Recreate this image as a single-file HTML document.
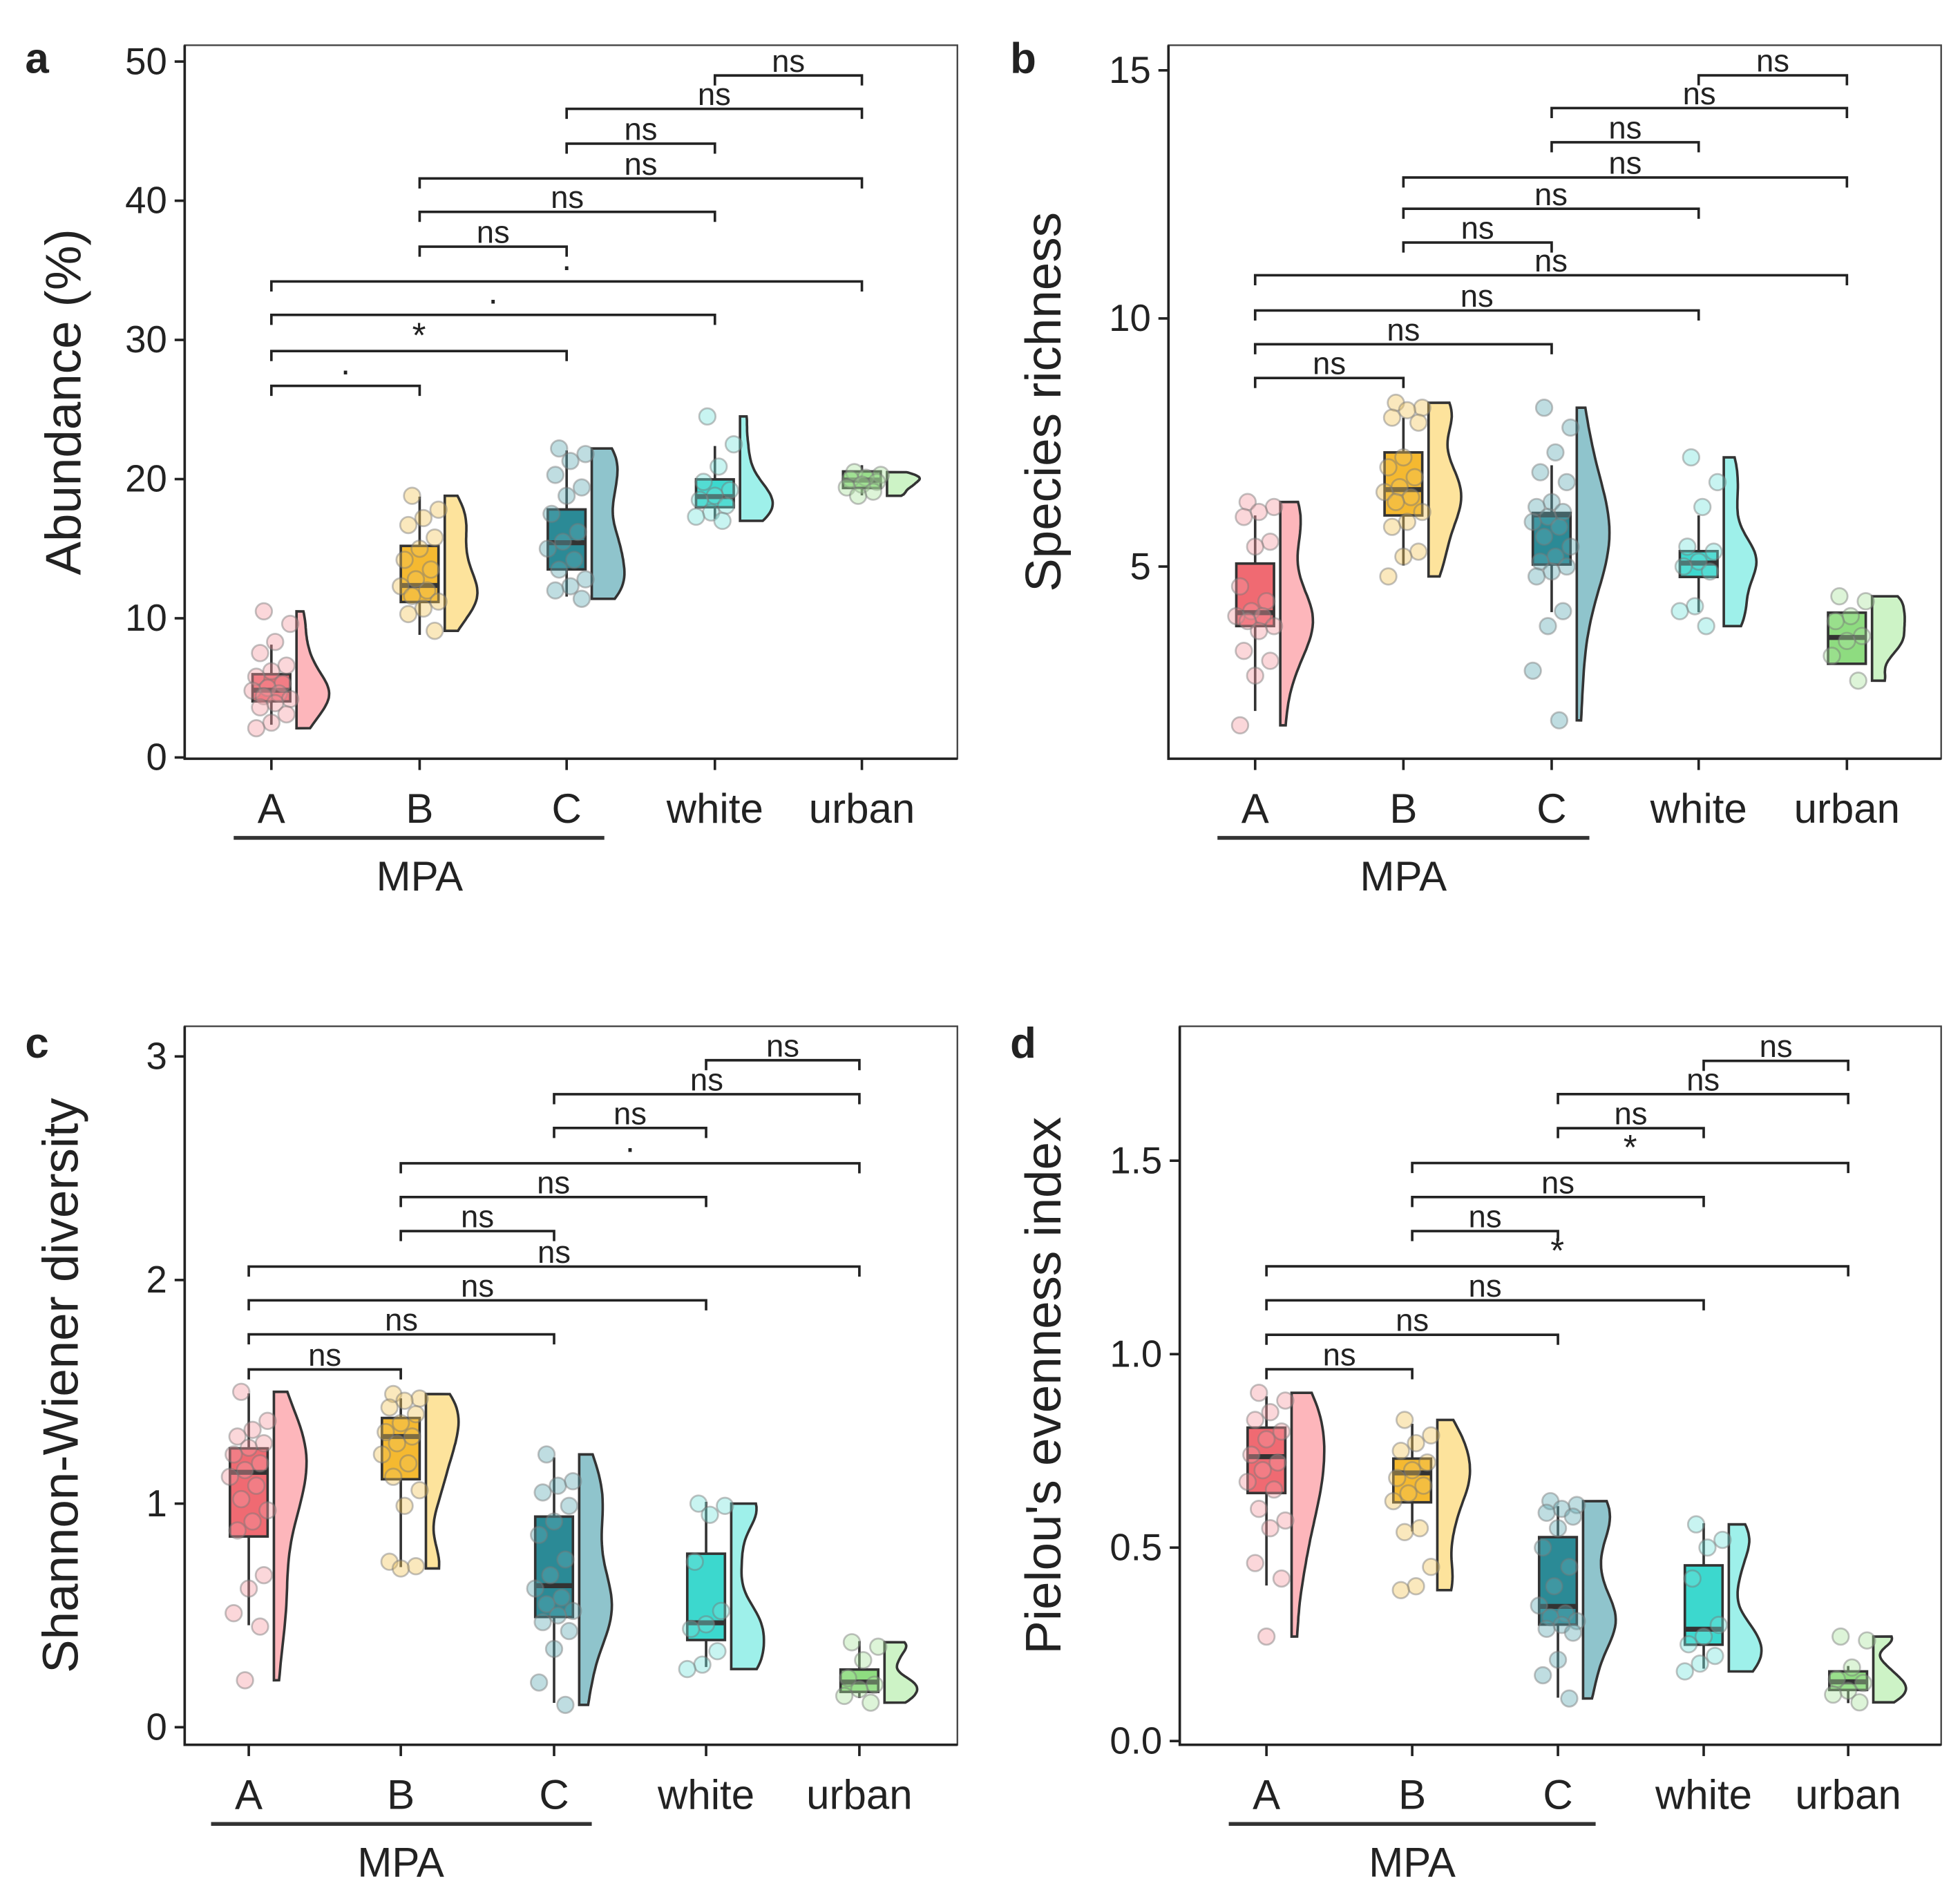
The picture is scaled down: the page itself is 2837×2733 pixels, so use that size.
<!DOCTYPE html>
<html><head><meta charset="utf-8"><style>
html,body{margin:0;padding:0;background:#fff}
svg{display:block}
text{font-family:"Liberation Sans",sans-serif;fill:#222}
</style></head><body>
<svg id="chart" xmlns="http://www.w3.org/2000/svg" width="2837" height="2733" viewBox="0 0 1560 1503" preserveAspectRatio="none"></svg>
<script>
const cats=['A','B','C','white','urban'];
const pairs=[[0,1],[0,2],[0,3],[0,4],[1,2],[1,3],[1,4],[2,3],[2,4],[3,4]];
// Panel a: Abundance
const aPts=[[10.5,9.6,8.3,7.5,6.6,6.2,5.8,5.3,5.0,4.8,4.6,4.4,4.2,3.9,3.6,3.1,2.5,2.1],
[18.8,17.8,17.2,16.7,15.8,15.0,14.2,13.5,12.8,12.3,12.0,11.6,11.2,10.7,10.3,9.1],
[22.2,21.8,21.3,20.3,19.4,18.8,17.5,16.2,15.5,15.0,14.2,13.5,12.8,12.3,12.0,11.4],
[24.5,22.5,20.9,19.8,19.2,18.8,18.5,18.1,17.6,17.3,17.0],
[20.5,20.3,20.1,20.0,19.8,19.6,19.4,19.1,18.8]];
const aQ1=[4.03,11.17,13.51,17.98,19.36];
const aMed=[4.83,12.36,15.43,18.74,19.93];
const aQ3=[5.98,15.2,17.82,19.98,20.55];
const aLo=[2.35,8.81,11.56,17.15,18.83];
const aHi=[8.11,18.74,22.06,22.38,21.0];
const aBrY=[26.7,29.2,31.8,34.2,36.7,39.2,41.6,44.1,46.6,49.0];
const aBrLab=['·','*','·','·','ns','ns','ns','ns','ns','ns'];
const aTicks=[0,10,20,30,40,50];
// Panel b: Species richness
const bPts=[[6.3,6.2,6.1,6.0,5.5,5.4,4.6,4.3,4.1,4.0,4.0,3.9,3.8,3.7,3.3,3.1,2.8,1.8],
[8.3,8.2,8.15,8.0,7.9,7.2,7.0,6.8,6.6,6.5,6.4,6.3,6.1,5.9,5.8,5.3,5.2,4.8],
[8.2,7.8,7.3,6.9,6.7,6.3,6.2,6.1,6.0,5.9,5.8,5.6,5.4,5.2,5.1,5.0,4.9,4.8,4.1,3.8,2.9,1.9],
[7.2,6.7,6.2,5.4,5.3,5.1,5.0,4.9,4.2,4.1,3.8],
[4.4,4.3,4.0,3.9,3.6,3.5,3.2,2.7]];
const bQ1=[3.8,6.03,5.04,4.79,3.04];
const bMed=[4.07,6.55,6.04,5.07,3.57];
const bQ3=[5.06,7.3,6.08,5.31,4.07];
const bLo=[2.09,5.02,4.08,4.08,3.04];
const bHi=[6.03,8.0,7.04,6.03,4.07];
const bBrY=[8.8,9.48,10.16,10.87,11.53,12.21,12.84,13.55,14.24,14.9];
const bBrLab=['ns','ns','ns','ns','ns','ns','ns','ns','ns','ns'];
const bTicks=[5,10,15];
// Panel c: Shannon-Wiener
const cPts=[[1.50,1.37,1.33,1.30,1.27,1.25,1.22,1.18,1.15,1.12,1.08,1.02,0.97,0.92,0.88,0.68,0.62,0.51,0.45,0.21],
[1.49,1.47,1.46,1.43,1.40,1.36,1.32,1.30,1.27,1.22,1.18,1.12,1.06,0.99,0.74,0.72,0.71],
[1.22,1.10,1.08,1.05,0.99,0.92,0.86,0.75,0.68,0.62,0.58,0.55,0.52,0.50,0.47,0.43,0.35,0.20,0.10],
[1.0,0.99,0.95,0.74,0.52,0.46,0.44,0.34,0.28,0.26],
[0.38,0.36,0.30,0.22,0.19,0.17,0.14,0.11]];
const cQ1=[0.853,1.109,0.493,0.39,0.158];
const cMed=[1.14,1.3,0.633,0.467,0.202];
const cQ3=[1.247,1.383,0.942,0.776,0.258];
const cLo=[0.456,0.716,0.109,0.269,0.131];
const cHi=[1.493,1.471,1.207,1.008,0.385];
const cBrY=[1.60,1.757,1.909,2.06,2.219,2.371,2.522,2.68,2.831,2.983];
const cBrLab=['ns','ns','ns','ns','ns','ns','·','ns','ns','ns'];
const cTicks=[0,1,2,3];
// Panel d: Pielou
const dPts=[[0.90,0.88,0.85,0.83,0.80,0.78,0.74,0.72,0.70,0.67,0.65,0.60,0.57,0.55,0.46,0.42,0.27],
[0.83,0.79,0.77,0.75,0.72,0.70,0.68,0.66,0.64,0.62,0.55,0.54,0.45,0.40,0.39],
[0.62,0.61,0.60,0.59,0.58,0.55,0.50,0.45,0.40,0.35,0.33,0.32,0.31,0.30,0.29,0.28,0.21,0.17,0.11],
[0.56,0.52,0.50,0.42,0.30,0.27,0.25,0.22,0.20,0.18],
[0.27,0.26,0.19,0.16,0.15,0.13,0.12,0.10]];
const dQ1=[0.641,0.617,0.301,0.249,0.132];
const dMed=[0.735,0.693,0.348,0.289,0.153];
const dQ3=[0.81,0.73,0.527,0.454,0.18];
const dLo=[0.402,0.542,0.112,0.187,0.098];
const dHi=[0.891,0.82,0.607,0.563,0.194];
const dBrY=[0.961,1.05,1.139,1.227,1.318,1.406,1.494,1.584,1.672,1.758];
const dBrLab=['ns','ns','ns','*','ns','ns','*','ns','ns','ns'];
const dTicks=['0.0','0.5','1.0','1.5'];

const boxFill=['#f06a72','#f5b930','#2b8a96','#3cd8ce','#8edc80'];
const violFill=['#fdb6bb','#fde39c','#8fc4cc','#9ef0ea','#cdf3c6'];
const ptFill=['#f59aa2','#f3c55a','#5fa9b3','#76e3dc','#a9e49d'];

const NS='http://www.w3.org/2000/svg';
const svg=document.getElementById('chart');
function mk(tag,attrs,parent){const e=document.createElementNS(NS,tag);for(const k in attrs)e.setAttribute(k,attrs[k]);(parent||svg).appendChild(e);return e;}

const panels=[
 {id:'a',pts:aPts,q1:aQ1,med:aMed,q3:aQ3,lo:aLo,hi:aHi,brY:aBrY,brLab:aBrLab,ticks:aTicks,
  x0:147,x1:762,y0:36,y1:604,xs:[216,334,451,569,686],yv0:0,yp0:603,ppu:11.08,title:'Abundance (%)',tx:50,letterX:20,letterY:58,catY:655,mpaY:667},
 {id:'b',pts:bPts,q1:bQ1,med:bMed,q3:bQ3,lo:bLo,hi:bHi,brY:bBrY,brLab:bBrLab,ticks:bTicks,
  x0:930,x1:1545,y0:36,y1:604,xs:[999,1117,1235,1352,1470],yv0:5,yp0:451,ppu:39.5,title:'Species richness',tx:830,letterX:804,letterY:58,catY:655,mpaY:667},
 {id:'c',pts:cPts,q1:cQ1,med:cMed,q3:cQ3,lo:cLo,hi:cHi,brY:cBrY,brLab:cBrLab,ticks:cTicks,
  x0:147,x1:762,y0:817,y1:1389,xs:[198,319,441,562,684],yv0:0,yp0:1375,ppu:178,title:'Shannon-Wiener diversity',tx:48,letterX:20,letterY:842,catY:1440,mpaY:1452},
 {id:'d',pts:dPts,q1:dQ1,med:dMed,q3:dQ3,lo:dLo,hi:dHi,brY:dBrY,brLab:dBrLab,ticks:dTicks,
  x0:939,x1:1545,y0:817,y1:1389,xs:[1008,1124,1240,1356,1471],yv0:0,yp0:1386,ppu:308,title:"Pielou's evenness index",tx:830,letterX:804,letterY:842,catY:1440,mpaY:1452}
];

panels.forEach(p=>{
 const Y=v=>p.yp0-(v-p.yv0)*p.ppu;
 const g=mk('g',{});
 
 
 const cid='clip'+p.id;
 const cp=mk('clipPath',{id:cid},g);
 mk('rect',{x:p.x0,y:p.y0,width:p.x1-p.x0,height:p.y1-p.y0},cp);
 const fr=mk('rect',{x:p.x0,y:p.y0,width:p.x1-p.x0,height:p.y1-p.y0,fill:'none',stroke:'#444','stroke-width':1.3},g);
 
 
 const ax=mk('path',{d:`M${p.x0},${p.y0} V${p.y1} H${p.x1}`,fill:'none',stroke:'#222','stroke-width':2},g);
 
 
 p.ticks.forEach(t=>{
  const y=Y(parseFloat(t));
  mk('line',{x1:p.x0-8,x2:p.x0,y1:y,y2:y,stroke:'#222','stroke-width':2},g);
  const tl=mk('text',{x:p.x0-14,y:y+10,'text-anchor':'end','font-size':30},g);
  tl.textContent=t;
  
  
 });
 const yt=mk('text',{x:p.tx,y:(p.y0+p.y1)/2,'text-anchor':'middle','font-size':40,transform:`rotate(-90 ${p.tx} ${(p.y0+p.y1)/2})`,dy:14},g);
 yt.textContent=p.title;
 
 
 const lt=mk('text',{x:p.letterX,y:p.letterY,'font-size':34,'font-weight':'bold'},g);
 lt.textContent=p.id;
 
 
 cats.forEach((c,i)=>{
  const x=p.xs[i];
  mk('line',{x1:x,x2:x,y1:p.y1,y2:p.y1+9,stroke:'#222','stroke-width':2},g);
  const cl=mk('text',{x:x,y:p.catY,'text-anchor':'middle','font-size':33},g);
  cl.textContent=c;
  
  
 });
 const ml=mk('line',{x1:p.xs[0]-30,x2:p.xs[2]+30,y1:p.mpaY,y2:p.mpaY,stroke:'#333','stroke-width':3},g);
 
 
 const mt=mk('text',{x:p.xs[1],y:p.mpaY+42,'text-anchor':'middle','font-size':33},g);
 mt.textContent='MPA';
 
 
 const gg=mk('g',{'clip-path':`url(#${cid})`},g);
 cats.forEach((c,i)=>{
  const x=p.xs[i], pts=p.pts[i];
  const mn=Math.min(...pts), mx=Math.max(...pts), rg=mx-mn||1, bw=rg*0.13;
  const N=50, dens=[];
  for(let k=0;k<=N;k++){const v=mn+rg*k/N;let s=0;pts.forEach(q=>{const z=(v-q)/bw;s+=Math.exp(-0.5*z*z)});dens.push([v,s]);}
  const dmax=Math.max(...dens.map(d=>d[1]));
  const vx=x+20;
  let d=`M${vx},${Y(mn)}`;
  dens.forEach(([v,s])=>{d+=` L${(vx+s/dmax*26).toFixed(1)},${Y(v).toFixed(1)}`});
  d+=` L${vx},${Y(mx)} Z`;
  const vp=mk('path',{d:d,fill:violFill[i],stroke:'#333','stroke-width':2},gg);
  
  
  const wk=mk('line',{x1:x,x2:x,y1:Y(p.lo[i]),y2:Y(p.hi[i]),stroke:'#333','stroke-width':2},gg);
  
  
  const bx=mk('rect',{x:x-15,y:Y(p.q3[i]),width:30,height:Y(p.q1[i])-Y(p.q3[i]),fill:boxFill[i],stroke:'#333','stroke-width':2},gg);
  
  
  const md=mk('line',{x1:x-15,x2:x+15,y1:Y(p.med[i]),y2:Y(p.med[i]),stroke:'#333','stroke-width':4},gg);
  
  
  pts.forEach((v,k)=>{
   const jx=x+(((k*7+3)%11)-5)*3;
   const pt=mk('circle',{cx:jx,cy:Y(v),r:6.5,fill:ptFill[i],'fill-opacity':0.4,stroke:'#777','stroke-opacity':0.45,'stroke-width':1.5},gg);
   
   
  });
 });
 pairs.forEach((pr,k)=>{
  const y=Y(p.brY[k]), xa=p.xs[pr[0]], xb=p.xs[pr[1]];
  const br=mk('path',{d:`M${xa},${y+8} V${y} H${xb} V${y+8}`,fill:'none',stroke:'#222','stroke-width':2},g);
  
  
  const lb=mk('text',{x:(xa+xb)/2,y:y-3,'text-anchor':'middle','font-size':p.brLab[k]==='ns'?25:28},g);
  lb.textContent=p.brLab[k];
  
  
 });
});
</script>
</body></html>
